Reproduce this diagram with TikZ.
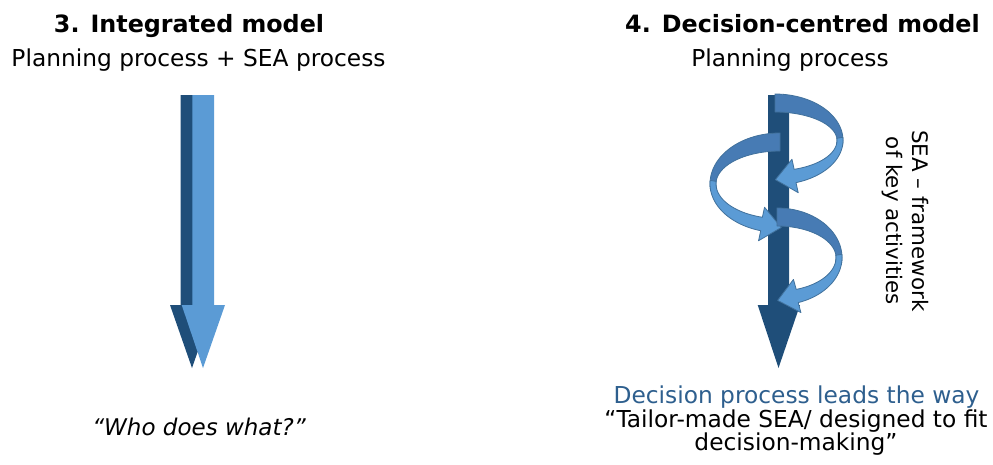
\documentclass[tikz,border=0pt]{standalone}
\usepackage{fontspec}
\setmainfont{DejaVu Sans}
\definecolor{navy}{HTML}{1F4E79}
\definecolor{lightb}{HTML}{5B9BD5}
\definecolor{ribbk}{HTML}{477BB4}
\definecolor{ribedge}{HTML}{41719C}
\definecolor{bluetxt}{HTML}{2E5F8E}
\tikzset{
  shaftdark/.style={fill=navy},
  shaftlight/.style={fill=lightb},
  ribbonback/.style={fill=ribbk, draw=ribedge, line width=0.8pt, line join=round},
  ribbonfront/.style={fill=lightb, draw=ribedge, line width=0.8pt, line join=round},
  titletxt/.style={font=\fontsize{23.8}{28}\selectfont\bfseries, inner sep=0pt, anchor=base},
  bodytxt/.style={font=\fontsize{23.3}{23.5}\selectfont, inner sep=0pt, anchor=base},
  italtxt/.style={font=\fontsize{23}{23.5}\selectfont\itshape, inner sep=0pt, anchor=base},
  rottxt/.style={font=\fontsize{21.4}{26}\selectfont, inner sep=0pt, align=center, rotate=-90},
}
\newcommand\spiralarrow[6]{%
  \pgfmathsetmacro\rPx{#1+(#5)*#3*cos(#6)}%
  \pgfmathsetmacro\rPy{#2-#4*sin(#6)}%
  \pgfmathsetmacro\rDx{(#5)*#3*sin(#6)}%
  \pgfmathsetmacro\rDy{#4*cos(#6)}%
  \pgfmathsetmacro\rDn{sqrt(\rDx*\rDx+\rDy*\rDy)}%
  \pgfmathsetmacro\rdx{\rDx/\rDn}%
  \pgfmathsetmacro\rdy{\rDy/\rDn}%
  \filldraw[ribbonback] plot[domain=90:-8,samples=40] ({#1+(#5)*(#3+3)*cos(\x)},{#2-(#4+9)*sin(\x)})
    -- plot[domain=-8:90,samples=40] ({#1+(#5)*(#3-3)*cos(\x)},{#2-(#4-9)*sin(\x)}) -- cycle;
  \filldraw[ribbonfront] plot[domain=4:#6,samples=40] ({#1+(#5)*(#3+3)*cos(\x)},{#2-(#4+7)*sin(\x)})
    -- ({\rPx+(#5)*17*\rdy},{\rPy-(#5)*17*\rdx})
    -- ({\rPx+20*\rdx},{\rPy+20*\rdy})
    -- ({\rPx-(#5)*17*\rdy},{\rPy+(#5)*17*\rdx})
    -- plot[domain=#6:4,samples=40] ({#1+(#5)*(#3-3)*cos(\x)},{#2-(#4-7)*sin(\x)}) -- cycle;
}
\begin{document}
\begin{tikzpicture}[x=1pt,y=-1pt]
\useasboundingbox (0,0) rectangle (993,464);
% left: integrated model arrows
\fill[shaftdark] (180.7,95) -- (203,95) -- (203,305) -- (214,305) -- (192,368) -- (170,305) -- (180.7,305) -- cycle;
\fill[shaftlight] (192.3,95) -- (214,95) -- (214,305) -- (225,305) -- (203,368) -- (181.7,305) -- (192.3,305) -- cycle;
% right: decision process arrow
\fill[shaftdark] (768,95) -- (789,95) -- (789,305) -- (800,305) -- (778.5,368) -- (757.7,305) -- (768,305) -- cycle;
\spiralarrow{775}{140.4}{65}{37.4}{1}{-72}
\spiralarrow{780}{183.8}{67}{41.8}{-1}{-74}
\spiralarrow{777}{257.6}{62}{40.6}{1}{-71}
% texts
\node[titletxt] (t3) at (189,32) {3. Integrated model};
\node[bodytxt] (p3) at (198.5,66) {Planning process + SEA process};
\node[titletxt] (t4) at (802.5,32) {4. Decision-centred model};
\node[bodytxt] (p4) at (790,66) {Planning process};
\node[italtxt] (who) at (199,435) {“Who does what?”};
\node[bodytxt, text=bluetxt] (dec) at (796.5,403) {Decision process leads the way};
\node[bodytxt, anchor=north, align=center] (tail) at (796,409.5) {“Tailor-made SEA/ designed to fit\\decision-making”};
\node[rottxt] (sea) at (905,221) {SEA – framework\\of key activities};
\end{tikzpicture}
\end{document}
